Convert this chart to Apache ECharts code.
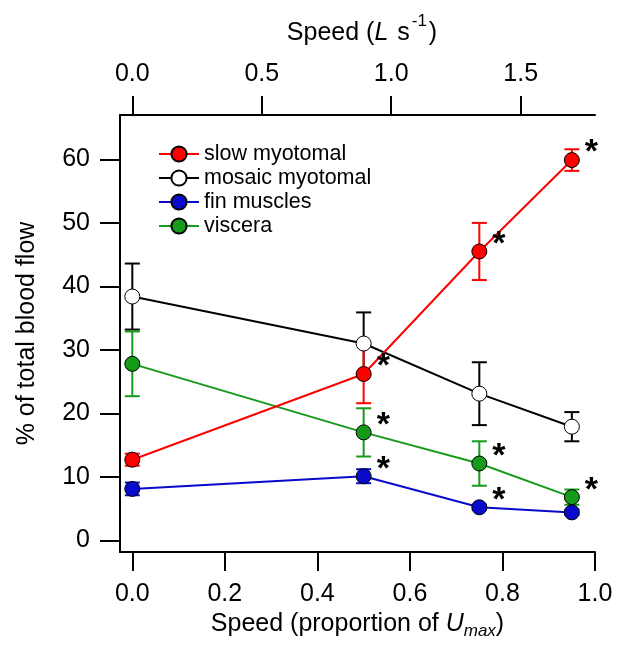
<!DOCTYPE html>
<html>
<head>
<meta charset="utf-8">
<script src="https://cdn.jsdelivr.net/npm/echarts@6/dist/echarts.min.js"></script>
<style>
  html, body { margin: 0; padding: 0; background: #fff; }
  #chart { width: 617px; height: 651px; }
</style>
</head>
<body>
<div id="chart"></div>
<script>
// speed as proportion of Umax
const speedProp = [0, 0.5, 0.75, 0.95];

// % of total blood flow, means and error bars
const slowMyotomal = [12.7, 26.2, 45.5, 59.9];
const slowErr = [0.95, 4.6, 4.5, 1.7];
const slowSig = [false, true, true, true];

const mosaicMyotomal = [38.4, 31.0, 23.1, 17.9];
const mosaicErr = [5.2, 4.9, 4.95, 2.3];
const mosaicSig = [false, false, false, false];

const finMuscles = [8.1, 10.1, 5.2, 4.4];
const finErr = [1.0, 1.1, 0.4, 0.4];
const finSig = [false, true, true, false];

const viscera = [27.8, 17.0, 12.1, 6.8];
const visceraErr = [5.1, 3.8, 3.5, 1.2];
const visceraSig = [false, true, true, true];

// tick labels
const bottomTicks = [0, 0.2, 0.4, 0.6, 0.8, 1.0];
const topTicks = [0, 0.5, 1.0, 1.5];
const yTicks = [0, 10, 20, 30, 40, 50, 60];

const FONT = "'Liberation Sans', Arial, sans-serif";

var chart = echarts.init(document.getElementById('chart'), null, { renderer: 'canvas' });

function errorBars(vals, errs, color) {
    return {
        type: 'custom',
        xAxisIndex: 0,
        yAxisIndex: 0,
        silent: true,
        encode: { x: 0, y: 1 },
        renderItem: function (params, api) {
            var x = api.value(0), y = api.value(1), e = api.value(2);
            var hi = api.coord([x, y + e]);
            var lo = api.coord([x, y - e]);
            var hw = 7.5;
            var st = { stroke: color, lineWidth: 2 };
            return {
                type: 'group',
                children: [
                    { type: 'line', shape: { x1: hi[0], y1: hi[1], x2: lo[0], y2: lo[1] }, style: st },
                    { type: 'line', shape: { x1: hi[0] - hw, y1: hi[1], x2: hi[0] + hw, y2: hi[1] }, style: st },
                    { type: 'line', shape: { x1: lo[0] - hw, y1: lo[1], x2: lo[0] + hw, y2: lo[1] }, style: st }
                ]
            };
        },
        data: speedProp.map(function (x, i) { return [x, vals[i], errs[i]]; })
    };
}

function lineSeries(name, vals, sig, lineColor, fill) {
    return {
        name: name,
        type: 'line',
        xAxisIndex: 0,
        yAxisIndex: 0,
        symbol: 'circle',
        symbolSize: 15,
        lineStyle: { color: lineColor, width: 2 },
        itemStyle: { color: fill, borderColor: '#000', borderWidth: 1 },
        label: {
            show: false,
            position: 'right',
            formatter: '*',
            fontSize: 34,
            fontWeight: 'bold',
            fontFamily: FONT,
            color: '#000',
            offset: [0, -7]
        },
        data: speedProp.map(function (x, i) {
            return { value: [x, vals[i]], label: { show: sig[i] } };
        })
    };
}

var axisCommon = {
    axisLine: { show: true, onZero: false, lineStyle: { color: '#000', width: 2 } },
    axisTick: { show: true, inside: false, length: 19, lineStyle: { color: '#000', width: 2 } },
    splitLine: { show: false }
};

var option = {
    animation: false,
    backgroundColor: '#fff',
    grid: { left: 120, right: 22, top: 115, bottom: 99, containLabel: false },
    legend: {
        data: ['slow myotomal', 'mosaic myotomal', 'fin muscles', 'viscera'],
        orient: 'vertical',
        left: 158,
        top: 143,
        padding: 0,
        itemWidth: 40,
        itemHeight: 19,
        itemGap: 2,
        selectedMode: false,
        textStyle: { fontSize: 21.5, fontFamily: FONT, color: '#000', lineHeight: 20 }
    },
    xAxis: [
        Object.assign({}, axisCommon, {
            type: 'value',
            position: 'bottom',
            min: -0.0266,
            max: 1.0,
            name: '{a|Speed (proportion of }{u|U}{s|max}{a|)}',
            nameLocation: 'middle',
            nameGap: 55,
            nameTextStyle: {
                rich: {
                    a: { fontSize: 25, fontFamily: FONT, color: '#000', lineHeight: 30 },
                    u: { fontSize: 25, fontFamily: FONT, fontStyle: 'italic', color: '#000', lineHeight: 30 },
                    s: { fontSize: 17, fontFamily: FONT, fontStyle: 'italic', color: '#000', lineHeight: 12, verticalAlign: 'bottom' }
                }
            },
            axisTick: Object.assign({}, axisCommon.axisTick, { customValues: bottomTicks }),
            axisLabel: {
                customValues: bottomTicks,
                margin: 30,
                fontSize: 25,
                fontFamily: FONT,
                color: '#000',
                formatter: function (v) { return v.toFixed(1); }
            }
        }),
        Object.assign({}, axisCommon, {
            type: 'value',
            position: 'top',
            min: -0.0475,
            max: 1.787,
            name: '{a|Speed (}{i|L}{a| s}{sup|-1}{a|)}',
            nameLocation: 'middle',
            nameGap: 62,
            nameTextStyle: {
                padding: [0, 0, 0, 9],
                rich: {
                    a: { fontSize: 25, fontFamily: FONT, color: '#000', lineHeight: 40 },
                    i: { fontSize: 25, fontFamily: FONT, fontStyle: 'italic', color: '#000', lineHeight: 40, padding: [0, 2, 0, 0] },
                    sup: { fontSize: 17, fontFamily: FONT, color: '#000', lineHeight: 12, verticalAlign: 'top', padding: [0, 2, 0, 2] }
                }
            },
            axisTick: Object.assign({}, axisCommon.axisTick, { customValues: topTicks }),
            axisLabel: {
                customValues: topTicks,
                margin: 28,
                fontSize: 25,
                fontFamily: FONT,
                color: '#000',
                formatter: function (v) { return v.toFixed(1); }
            }
        })
    ],
    yAxis: Object.assign({}, axisCommon, {
        type: 'value',
        min: -1.84,
        max: 67,
        name: '% of total blood flow',
        nameLocation: 'middle',
        nameGap: 80,
        nameTextStyle: { fontSize: 25, fontFamily: FONT, color: '#000' },
        axisTick: Object.assign({}, axisCommon.axisTick, { customValues: yTicks, length: 20 }),
        axisLabel: {
            customValues: yTicks,
            margin: 30,
            fontSize: 25,
            fontFamily: FONT,
            color: '#000'
        }
    }),
    series: [
        errorBars(mosaicMyotomal, mosaicErr, '#000'),
        lineSeries('mosaic myotomal', mosaicMyotomal, mosaicSig, '#000', '#fff'),
        errorBars(finMuscles, finErr, '#0a0acc'),
        lineSeries('fin muscles', finMuscles, finSig, '#0a0acc', '#0a0acc'),
        errorBars(viscera, visceraErr, '#169a1a'),
        lineSeries('viscera', viscera, visceraSig, '#169a1a', '#169a1a'),
        errorBars(slowMyotomal, slowErr, '#ff0000'),
        lineSeries('slow myotomal', slowMyotomal, slowSig, '#ff0000', '#ff0000')
    ]
};

chart.setOption(option);
window.addEventListener('resize', chart.resize);
</script>
</body>
</html>
